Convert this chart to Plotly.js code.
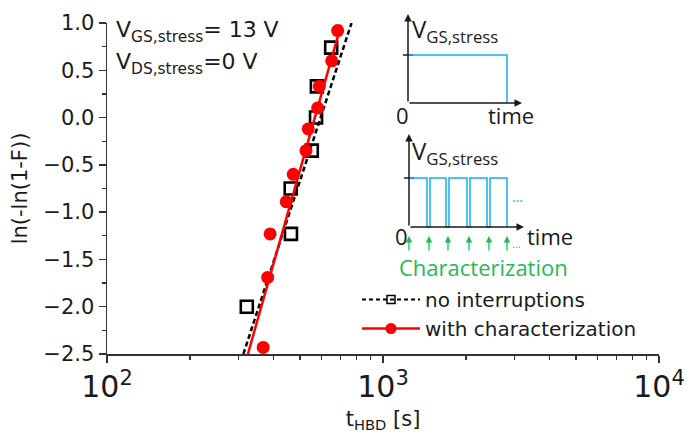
<!DOCTYPE html>
<html>
<head>
<meta charset="utf-8">
<script src="https://cdn.plot.ly/plotly-3.0.1.min.js"></script>
<style>html,body{margin:0;padding:0;background:#fff;}#chart{width:692px;height:433px;}</style>
</head>
<body>
<div id="chart"></div>
<script>
// ---- data ----
const tNoInterrupt = [649, 576, 572, 552, 463, 464, 321];
const yNoInterrupt = [0.74, 0.33, 0.0, -0.35, -0.75, -1.23, -2.0];
const tWithChar = [685, 652, 588, 580, 536, 526, 473, 446, 390, 382, 368];
const yWithChar = [0.92, 0.6, 0.33, 0.1, -0.12, -0.35, -0.6, -0.89, -1.23, -1.69, -2.43];
const fitNoInterruptT = [312, 769];
const fitNoInterruptY = [-2.5, 1.0];
const fitWithCharT = [324, 705];
const fitWithCharY = [-2.5, 0.98];
const legendNames = ['no interruptions', 'with characterization'];
const yTickVals = [-2.5, -2.0, -1.5, -1.0, -0.5, 0.0, 0.5, 1.0];

// ---- styling ----
const MAIN_FONT = 'DejaVu Sans';
const INSET_FONT = 'Open Sans';
const BLUE = '#14aef0';
const GREEN = '#1fba5a';
const INK = '#1a1a1a';
const L = 107, R = 659, T = 23, B = 354;
const PX = x => (x - L) / (R - L);
const PY = y => (B - y) / (B - T);

const traces = [
  {x: fitNoInterruptT, y: fitNoInterruptY, mode: 'lines', showlegend: false,
   line: {color: '#000', width: 2.5, dash: '5px,3px'}, hoverinfo: 'skip'},
  {x: tNoInterrupt, y: yNoInterrupt, mode: 'markers', showlegend: false,
   marker: {symbol: 'square-open', size: 12, color: '#000', line: {width: 2.6, color: '#000'}}},
  {x: fitWithCharT, y: fitWithCharY, mode: 'lines', showlegend: false,
   line: {color: '#ff0000', width: 2.5}, hoverinfo: 'skip'},
  {x: tWithChar, y: yWithChar, mode: 'markers', showlegend: false,
   marker: {symbol: 'circle', size: 13, color: '#ff0000'}},
  // legend entries
  {x: [null], y: [null], mode: 'lines+markers', name: legendNames[0],
   line: {color: '#000', width: 2, dash: '4px,3px'},
   marker: {symbol: 'square-open', size: 8, color: '#000', line: {width: 1.5, color: '#000'}}},
  {x: [null], y: [null], mode: 'lines+markers', name: legendNames[1],
   line: {color: '#ff0000', width: 2.5},
   marker: {symbol: 'circle', size: 11, color: '#ff0000'}}
];

function arrow(x0, y0, x1, y1, color, width) {
  return {xref: 'paper', yref: 'paper', x: PX(x1), y: PY(y1), ax: x0 - x1, ay: y0 - y1,
    text: '', showarrow: true, arrowhead: 2, arrowsize: 1, arrowwidth: width,
    arrowcolor: color, standoff: 0, startstandoff: 0};
}
function label(x, y, text, size, color, font, xanchor) {
  return {xref: 'paper', yref: 'paper', x: PX(x), y: PY(y), text: text, showarrow: false,
    xanchor: xanchor || 'left', yanchor: 'middle',
    font: {family: font, size: size, color: color}};
}

const annotations = [
  label(114, 31, 'V<sub>GS,stress</sub>= 13 V', 22, INK, MAIN_FONT),
  label(114, 63, 'V<sub>DS,stress</sub>=0 V', 22, INK, MAIN_FONT),
  // inset 1
  arrow(408, 103, 408, 14, INK, 1.5),
  arrow(408, 103, 522, 103, INK, 1.5),
  label(410, 30, 'V<sub>GS,stress</sub>', 24, INK, INSET_FONT),
  label(402, 115, '0', 22, INK, INSET_FONT, 'center'),
  label(511, 115, 'time', 22, INK, INSET_FONT, 'center'),
  // inset 2
  arrow(409, 227, 409, 134, INK, 1.5),
  arrow(409, 227, 524, 227, INK, 1.5),
  label(410, 152, 'V<sub>GS,stress</sub>', 24, INK, INSET_FONT),
  label(401, 236, '0', 22, INK, INSET_FONT, 'center'),
  label(550, 236, 'time', 22, INK, INSET_FONT, 'center'),
  label(517, 196, '...', 14, BLUE, INSET_FONT, 'center'),
  label(516, 243, '...', 11, GREEN, INSET_FONT, 'center'),
  label(483, 267, 'Characterization', 22, GREEN, INSET_FONT, 'center')
];
[409, 429, 448, 469, 489, 507].forEach(x => annotations.push(arrow(x, 252, x, 236, GREEN, 1.3)));

const shapes = [
  {type: 'line', xref: 'paper', yref: 'paper', x0: PX(403), x1: PX(413), y0: PY(55), y1: PY(55), line: {color: INK, width: 1.5}},
  {type: 'path', xref: 'paper', yref: 'paper',
   path: `M${PX(408)},${PY(55)} L${PX(507)},${PY(55)} L${PX(507)},${PY(103)}`,
   line: {color: BLUE, width: 1.5}},
  {type: 'line', xref: 'paper', yref: 'paper', x0: PX(404), x1: PX(414), y0: PY(178), y1: PY(178), line: {color: INK, width: 1.5}}
];
// pulse train
const pulseX = [409, 427, 430, 446, 449, 467, 470, 487, 490, 507];
let p = `M${PX(pulseX[0])},${PY(178)}`;
for (let i = 1; i < pulseX.length; i++) {
  const hi = (i % 2 === 1);
  p += ` L${PX(pulseX[i])},${PY(hi ? 178 : 227)}`;
  p += ` L${PX(pulseX[i])},${PY(hi ? 227 : 178)}`;
}
shapes.push({type: 'path', xref: 'paper', yref: 'paper', path: p, line: {color: BLUE, width: 1.5}});

const layout = {
  width: 692, height: 433,
  margin: {l: L, r: 692 - R, t: T, b: 433 - B},
  paper_bgcolor: '#fff', plot_bgcolor: '#fff',
  font: {family: MAIN_FONT, color: INK},
  xaxis: {
    type: 'log', range: [2, 4], dtick: 1, exponentformat: 'power', showexponent: 'all',
    showline: true, linecolor: '#333', linewidth: 1.5, showgrid: false, zeroline: false,
    ticks: 'outside', ticklen: 7, tickwidth: 1.5, tickcolor: '#333',
    minor: {ticks: 'outside', ticklen: 4, tickwidth: 1.2, tickcolor: '#333', dtick: 'D1', showgrid: false},
    tickfont: {family: MAIN_FONT, size: 24, color: INK},
    title: {text: 't<sub>HBD</sub> [s]', font: {family: MAIN_FONT, size: 21, color: INK}, standoff: 8}
  },
  yaxis: {
    range: [-2.5, 1.0], tickvals: yTickVals, tickformat: '.1f',
    showline: true, linecolor: '#333', linewidth: 1.5, showgrid: false, zeroline: false,
    ticks: 'outside', ticklen: 7, tickwidth: 1.5, tickcolor: '#333',
    minor: {ticks: 'outside', ticklen: 4, tickwidth: 1.2, tickcolor: '#333', dtick: 0.25, showgrid: false},
    tickfont: {family: MAIN_FONT, size: 21, color: INK},
    title: {text: 'ln(-ln(1-F))', font: {family: MAIN_FONT, size: 21, color: INK}, standoff: 10}
  },
  showlegend: true,
  legend: {x: PX(357), y: PY(280), xanchor: 'left', yanchor: 'top', bgcolor: 'rgba(0,0,0,0)',
    font: {family: MAIN_FONT, size: 20, color: INK}, itemwidth: 58, tracegroupgap: 0},
  annotations: annotations,
  shapes: shapes
};

Plotly.newPlot('chart', traces, layout, {displayModeBar: false, staticPlot: true});
</script>
</body>
</html>
